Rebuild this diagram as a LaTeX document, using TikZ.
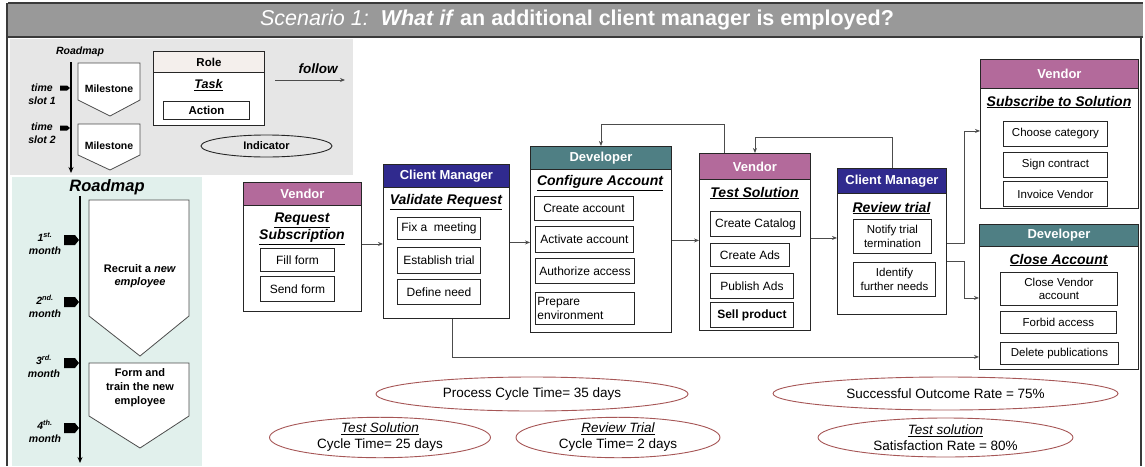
\documentclass[tikz,border=0pt]{standalone}
\usepackage{fontspec}
\setmainfont{Liberation Sans}
\usetikzlibrary{arrows.meta,shapes.geometric,calc}
\definecolor{vendorc}{HTML}{B36A9B}
\definecolor{cmc}{HTML}{302A8E}
\definecolor{devc}{HTML}{4F7F84}
\definecolor{ellc}{HTML}{A65656}
\definecolor{legbg}{HTML}{E6E6E6}
\definecolor{roadbg}{HTML}{E1F0EC}
\definecolor{titlebg}{HTML}{999999}
\definecolor{rolehdr}{HTML}{F4EFEC}
\definecolor{framec}{HTML}{3A3A3A}
\tikzset{
  box/.style={draw=black!85, line width=0.9pt, fill=white, anchor=north west, inner sep=0pt},
  hdr/.style={draw=black!85, line width=0.9pt, anchor=north west, text=white, inner sep=0pt,
    font=\bfseries\fontsize{13}{15}\selectfont},
  act/.style={draw=black!85, line width=0.9pt, fill=white, anchor=north west, align=center,
    inner sep=1pt, font=\fontsize{12}{14}\selectfont},
  ttl/.style={font=\bfseries\itshape\fontsize{14}{17}\selectfont, align=center, inner sep=0pt},
  flow/.style={draw=black!70, line width=0.8pt, -{Stealth[length=5pt,width=4pt]}},
  ind/.style={ellipse, draw=ellc, line width=0.9pt, inner sep=0pt, align=center,
    font=\fontsize{13.5}{16}\selectfont},
  mile/.style={draw=black!70, line width=0.8pt, fill=white},
  mkr/.style={fill=black},
  lbl/.style={font=\bfseries\itshape\fontsize{10.5}{12.5}\selectfont, align=center, inner sep=0pt},
  mlbl/.style={font=\bfseries\itshape\fontsize{10.5}{13}\selectfont, align=center, inner sep=0pt},
}
\begin{document}
\begin{tikzpicture}[x=1pt,y=-1pt]
\useasboundingbox (0,0) rectangle (1145,466);
% backgrounds
\fill[white] (0,0) rectangle (1145,466);
\fill[legbg] (10,39) rectangle (353,175);
\fill[roadbg] (12,177) rectangle (202,466);
% title bar
\fill[titlebg] (8,3) rectangle (1143,37);
\draw[framec, line width=1.5pt] (8,3) -- (1143,3);
\draw[framec, line width=1.5pt] (8,37) -- (1143,37);
\draw[framec, line width=1.8pt] (7,3) -- (7,466);
\draw[framec, line width=1.2pt] (1141,37) -- (1141,466);
\node[text=white, inner sep=0pt] (title) at (577,20)
  {\fontsize{21.5}{25}\selectfont\textit{Scenario 1:}\ \ \textbf{\textit{What if} an additional client manager is employed?}};

% ---------- legend ----------
\node[lbl] (lroad) at (80,52) {Roadmap};
\coordinate (laxtop) at (71,62);
\coordinate (laxbot) at (71,173);
\draw[line width=1.2pt, -{Stealth[length=6pt,width=5pt]}] (laxtop) -- (laxbot);
\fill[mkr] (60,85.5) -- (67,85.5) -- (70,88) -- (67,90.5) -- (60,90.5) -- cycle;
\fill[mkr] (60,125.5) -- (67,125.5) -- (70,128) -- (67,130.5) -- (60,130.5) -- cycle;
\node[lbl] (ts1) at (42,94) {time\\slot 1};
\node[lbl] (ts2) at (42,133) {time\\slot 2};
\draw[mile] (78,63) -- (140,63) -- (140,100) -- (110,116) -- (78,100) -- cycle;
\draw[mile] (78,124) -- (140,124) -- (140,155) -- (110,170) -- (78,155) -- cycle;
\node[font=\bfseries\fontsize{10.5}{12}\selectfont, inner sep=0pt] (ms1) at (109,89) {Milestone};
\node[font=\bfseries\fontsize{10.5}{12}\selectfont, inner sep=0pt] (ms2) at (109,146) {Milestone};
\node[box, minimum width=111pt, minimum height=74pt] (role) at (153,51) {};
\node[box, fill=rolehdr, minimum width=111pt, minimum height=21pt, font=\bfseries\fontsize{11.5}{13}\selectfont] (roleh) at (role.north west) {Role};
\node[font=\bfseries\itshape\fontsize{12.5}{14}\selectfont] (task) at (208.5,85) {\underline{Task}};
\node[act, minimum width=86pt, minimum height=18pt, font=\bfseries\fontsize{11.5}{13}\selectfont] (action) at (163,101) {Action};
\node[font=\bfseries\itshape\fontsize{13.5}{15}\selectfont] (follow) at (318,69) {follow};
\coordinate (fa) at (275,80);
\coordinate (fb) at (345,80);
\draw[flow] (fa) -- (fb);
\node[ind, draw=black!85, minimum width=131pt, minimum height=22pt, font=\bfseries\fontsize{11}{13}\selectfont] (indic) at (266.5,146) {Indicator};

% ---------- roadmap ----------
\node[font=\bfseries\itshape\fontsize{16.5}{19}\selectfont] (road) at (107,187) {Roadmap};
\coordinate (raxtop) at (80,196);
\coordinate (raxbot) at (80,463);
\draw[line width=1.3pt, -{Stealth[length=6pt,width=5pt]}] (raxtop) -- (raxbot);
\foreach \yy in {240,302,363,428}{
  \fill[mkr] (64,\yy-5) -- (75,\yy-5) -- (79,\yy) -- (75,\yy+5) -- (64,\yy+5) -- cycle;
}
\node[mlbl] (m1) at (45,244) {1\textsuperscript{st.}\\month};
\node[mlbl] (m2) at (45,306) {2\textsuperscript{nd.}\\month};
\node[mlbl] (m3) at (44,366) {3\textsuperscript{rd.}\\month};
\node[mlbl] (m4) at (45,431) {4\textsuperscript{th.}\\month};
\draw[mile] (89,200) -- (189,200) -- (189,316) -- (140,356) -- (89,316) -- cycle;
\draw[mile] (89,363) -- (189,363) -- (189,416) -- (140,448) -- (89,416) -- cycle;
\node[font=\bfseries\fontsize{11}{13.5}\selectfont, align=center] (ms3) at (140,276) {Recruit a \textit{new}\\\textit{employee}};
\node[font=\bfseries\fontsize{11}{14}\selectfont, align=center] (ms4) at (140,388) {Form and\\train the new\\employee};

% ---------- process boxes ----------
% Vendor - Request Subscription
\node[box, minimum width=118pt, minimum height=129pt] (vs) at (243,182) {};
\node[hdr, fill=vendorc, minimum width=118pt, minimum height=23pt] (vsh) at (vs.north west) {Vendor};
\node[ttl] (vst) at (302,229) {\underline{Request}\\\underline{Subscription}};
\node[act, minimum width=74pt, minimum height=23pt] (vs1) at (260,248) {Fill form};
\node[act, minimum width=74pt, minimum height=25pt] (vs2) at (260,276) {Send form};

% Client Manager - Validate Request
\node[box, minimum width=126pt, minimum height=154pt] (cm1) at (383,164) {};
\node[hdr, fill=cmc, minimum width=126pt, minimum height=23pt] (cm1h) at (cm1.north west) {Client Manager};
\node[ttl] (cm1t) at (446,202) {\underline{Validate Request}};
\node[act, minimum width=83pt, minimum height=22pt] (cm1a) at (397,217) {Fix a\ \ meeting};
\node[act, minimum width=83pt, minimum height=26pt] (cm1b) at (397,247) {Establish trial};
\node[act, minimum width=83pt, minimum height=25pt] (cm1c) at (397,279) {Define need};

% Developer - Configure Account
\node[box, minimum width=141pt, minimum height=186pt] (dev) at (530,146) {};
\node[hdr, fill=devc, minimum width=141pt, minimum height=23pt] (devh) at (dev.north west) {Developer};
\node[ttl] (devt) at (600,183) {\underline{Configure Account}};
\node[act, minimum width=99pt, minimum height=24pt] (dv1) at (534,196) {Create account};
\node[act, minimum width=98pt, minimum height=26pt] (dv2) at (535,226) {Activate account};
\node[act, minimum width=99pt, minimum height=25pt] (dv3) at (535,258) {Authorize access};
\node[act, minimum width=99pt, minimum height=32pt, align=left, text width=95pt] (dv4) at (535,292) {Prepare\\environment};

% Vendor - Test Solution
\node[box, minimum width=111pt, minimum height=177pt] (v2) at (699,153) {};
\node[hdr, fill=vendorc, minimum width=111pt, minimum height=26pt] (v2h) at (v2.north west) {Vendor};
\node[ttl] (v2t) at (754.5,193) {\underline{Test Solution}};
\node[act, minimum width=90pt, minimum height=25pt] (v2a) at (710,211) {Create Catalog};
\node[act, minimum width=79pt, minimum height=23pt] (v2b) at (710,243) {Create Ads};
\node[act, minimum width=83pt, minimum height=25pt] (v2c) at (710,273) {Publish Ads};
\node[act, minimum width=83pt, minimum height=25pt, font=\bfseries\fontsize{12}{14}\selectfont] (v2d) at (710,302) {Sell product};

% Client Manager - Review trial
\node[box, minimum width=109pt, minimum height=146pt] (cm2) at (837,168) {};
\node[hdr, fill=cmc, minimum width=109pt, minimum height=25pt] (cm2h) at (cm2.north west) {Client Manager};
\node[ttl] (cm2t) at (891.5,208) {\underline{Review trial}};
\node[act, minimum width=78pt, minimum height=34pt, font=\fontsize{11.5}{13.5}\selectfont] (cm2a) at (853,219) {Notify trial\\termination};
\node[act, minimum width=82pt, minimum height=34pt, font=\fontsize{11.5}{13.5}\selectfont] (cm2b) at (853,262) {Identify\\further needs};

% Vendor - Subscribe to Solution
\node[box, minimum width=158pt, minimum height=149pt] (sub) at (980,59) {};
\node[hdr, fill=vendorc, minimum width=158pt, minimum height=29pt] (subh) at (sub.north west) {Vendor};
\node[ttl] (subt) at (1059,102) {\underline{Subscribe to Solution}};
\node[act, minimum width=104pt, minimum height=25pt, font=\fontsize{11.5}{13.5}\selectfont] (sb1) at (1003,121) {Choose category};
\node[act, minimum width=104pt, minimum height=25pt, font=\fontsize{11.5}{13.5}\selectfont] (sb2) at (1003,152) {Sign contract};
\node[act, minimum width=104pt, minimum height=25pt, font=\fontsize{11.5}{13.5}\selectfont] (sb3) at (1003,181) {Invoice Vendor};

% Developer - Close Account
\node[box, minimum width=159pt, minimum height=145pt] (close) at (979,224) {};
\node[hdr, fill=devc, minimum width=159pt, minimum height=22pt] (closeh) at (close.north west) {Developer};
\node[ttl] (closet) at (1058.5,260) {\underline{Close Account}};
\node[act, minimum width=117pt, minimum height=33pt, font=\fontsize{11.5}{13.5}\selectfont] (cl1) at (1000,272) {Close Vendor\\account};
\node[act, minimum width=116pt, minimum height=22pt, font=\fontsize{11.5}{13.5}\selectfont] (cl2) at (1000,311) {Forbid access};
\node[act, minimum width=118pt, minimum height=22pt, font=\fontsize{11.5}{13.5}\selectfont] (cl3) at (1000,342) {Delete publications};

% ---------- connectors ----------
\coordinate (c1) at ($(vs.east)+(0,-3)$);
\coordinate (c2) at ($(cm1.east)+(0,1)$);
\coordinate (c3) at ($(dev.east)+(0,1)$);
\coordinate (c4) at ($(v2.east)+(0,-4)$);
\draw[flow] (c1) -- (c1 -| cm1.west);
\draw[flow] (c2) -- (c2 -| dev.west);
\draw[flow] (c3) -- (c3 -| v2.west);
\draw[flow] (c4) -- (c4 -| cm2.west);
\coordinate (c5) at ($(cm2.east)+(0,2)$);
\coordinate (c5e) at ($(sub.west)+(0,-3)$);
\coordinate (c6) at ($(cm2.east)+(0,20)$);
\coordinate (c6e) at ($(close.west)+(0,1)$);
\draw[flow] (c5) -- ++(17,0) |- (c5e);
\draw[flow] (c6) -- ++(17,0) |- (c6e);
\coordinate (botend) at ($(close.south west)+(0,-13)$);
\coordinate (botstart) at ($(cm1.south)+(6,0)$);
\draw[flow] (botstart) |- (botend);
\coordinate (loopA) at ($(v2.north)+(-31,0)$);
\draw[flow] (loopA) -- ++(0,-29) -| (dev.north);
\draw[flow] (cm2.north) -- ++(0,-31) -| (v2.north);

% ---------- indicators ----------
\node[ind, minimum width=312pt, minimum height=34pt] (pct) at (532,394) {Process Cycle Time= 35 days};
\node[ind, minimum width=221pt, minimum height=39pt] (tsct) at (380,437.5) {\textit{\underline{Test Solution}}\\Cycle Time= 25 days};
\node[ind, minimum width=204pt, minimum height=39pt] (rtct) at (618,437.5) {\textit{\underline{Review Trial}}\\Cycle Time= 2 days};
\node[ind, minimum width=345pt, minimum height=33pt] (sor) at (945.5,393.5) {Successful Outcome Rate = 75\%};
\node[ind, minimum width=255pt, minimum height=39pt] (tssr) at (945.5,437.5) {\textit{\underline{Test solution}}\\Satisfaction Rate = 80\%};
\end{tikzpicture}
\end{document}
